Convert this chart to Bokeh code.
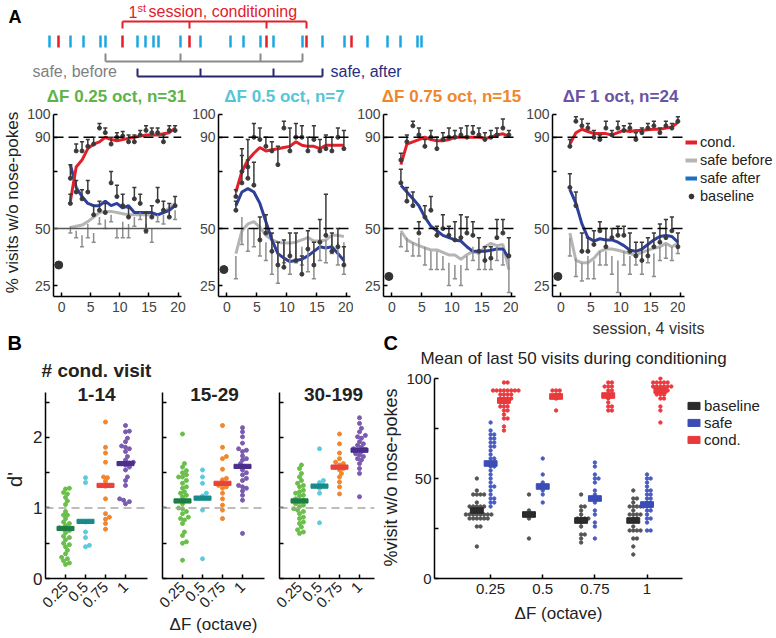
import numpy as np
from math import pi
from bokeh.plotting import figure
from bokeh.layouts import row, column
from bokeh.models import Range1d, Label, Span, Legend, LegendItem, FixedTicker, Spacer
from bokeh.embed import file_html
from bokeh.resources import INLINE

FONT = "Liberation Sans"

# ---------------- Panel A schematic data ----------------
visit_times = [49, 58, 70, 83, 100, 105, 122, 137, 145, 153, 158, 180, 189, 200, 230, 243,
               260, 266, 273, 302, 306, 322, 344, 351, 367, 387, 400, 417, 421]
visit_kind = ["s", "c", "s", "s", "s", "s", "c", "s", "s", "s", "s", "s", "c", "s", "s", "s",
              "s", "c", "s", "s", "c", "s", "s", "c", "s", "s", "s", "s", "s"]
cond_idx = [6, 12, 17, 20]
before_idx = [5, 11, 16, 19]
after_idx = [7, 13, 18, 21]

# ---------------- Panel A data ----------------
sessions = [1.5, 2.5, 3.5, 4.5, 5.5, 6.5, 7.5, 8.5, 9.5, 10.5, 11.5, 12.5, 13.5, 14.5,
            15.5, 16.5, 17.5, 18.5, 19.5]
df_labels = ["0.25", "0.5", "0.75", "1"]
n_mice = [31, 7, 15, 24]
baseline_A = [34, 32, 29, 29]

cond_line_a = [62, 77, 80, 85, 87, 88, 90, 89, 88.5, 89, 89.5, 90, 90.5, 91, 91, 91, 91.5, 92, 94]
before_line_a = [50.5, 51, 51.5, 53, 55, 57, 57.5, 57.5, 57, 56.5, 56, 56, 56, 56, 56, 56, 57, 59, 61]
after_line_a = [78, 68, 64, 61, 60, 60, 62, 60, 61, 59, 60, 57, 57, 57, 57, 56, 57, 58, 60]
cond_mean_a = [61, 84, 84, 86, 87, 94, 92, 87, 90, 90.5, 88, 88, 91, 93, 92, 92, 88, 93, 93]
cond_err_a = [4, 3, 4, 3, 3, 2, 2, 3, 2, 2, 3, 3, 2, 2, 2, 2, 3, 2, 2]
after_mean_a = [72, 66, 63, 66, 56, 58, 57, 70, 64, 60, 55, 63, 61, 49, 55, 62, 58, 55, 60]
after_err_a = [6, 5, 4, 5, 4, 4, 4, 5, 5, 5, 4, 5, 4, 8, 5, 6, 4, 6, 4]
before_mean_a = [51, 49, 47, 52, 48, 55, 54, 56, 50, 53, 52, 55, 57, 52, 50, 56, 56, 60, 58]
before_err_a = [3, 3, 5, 6, 4, 3, 4, 3, 4, 7, 6, 4, 3, 4, 6, 3, 4, 5, 4]

cond_line_b = [66, 75, 80, 83, 85.5, 84, 84.5, 85, 85.5, 86, 88, 86.5, 86, 86, 85, 86.5, 86.5, 86.5, 86.5]
before_line_b = [39, 49, 52, 53, 50.5, 47, 45, 44, 43.6, 43.6, 44, 45, 46, 44.5, 44.5, 45, 47, 47, 46.5]
after_line_b = [60, 66, 67.5, 66, 61, 53, 45, 39, 37, 35.5, 36, 36.5, 38, 40, 42, 41.5, 42, 39, 36]
cond_mean_b = [64, 75, 77, 90, 89, 86, 84, 78, 94, 84, 90, 90, 84, 89, 84, 85, 84, 90, 85]
cond_err_b = [3, 10, 12, 6, 5, 4, 4, 8, 3, 10, 6, 5, 6, 6, 5, 6, 6, 4, 8]
after_mean_b = [58, 70, 72, 69, 45, 48, 40, 34, 33, 38, 36, 30, 41, 34, 44, 47, 40, 42, 34]
after_err_b = [4, 12, 8, 10, 10, 8, 8, 10, 12, 10, 12, 8, 8, 10, 10, 18, 8, 8, 8]
before_mean_b = [38, 55, 50, 50, 48, 44, 42, 40, 43, 40, 47, 42, 45, 40, 44, 45, 47, 44, 44]
before_err_b = [10, 12, 10, 8, 10, 8, 12, 14, 8, 10, 12, 8, 14, 12, 8, 10, 8, 10, 14]

cond_line_c = [78, 87, 88, 89, 90, 89, 88.5, 88.5, 89, 90, 90, 90, 90, 90, 89.5, 90, 91, 91.5, 90.5]
before_line_c = [49, 45, 43.6, 42.5, 41.5, 40.6, 40.6, 39.5, 38.4, 38.4, 36.5, 38.5, 40, 39, 42, 43.5, 42.5, 43, 32]
after_line_c = [69, 66, 63, 60, 55, 51, 49, 47, 46, 45, 44.5, 42, 40, 40, 40, 40.5, 41, 41, 37]
cond_mean_c = [80, 88, 95, 91, 86, 90, 85, 89, 90, 90, 91, 90, 92, 91, 89, 90, 91, 94, 91]
cond_err_c = [3, 3, 2, 3, 3, 3, 5, 3, 4, 3, 3, 5, 3, 3, 3, 3, 3, 4, 2]
after_mean_c = [70, 62, 60, 48, 55, 58, 47, 50, 47, 45, 46, 48, 47, 40, 36, 37, 46, 48, 38]
after_err_c = [6, 6, 6, 5, 5, 6, 4, 6, 4, 8, 10, 7, 6, 6, 6, 5, 8, 6, 8]
before_mean_c = [48, 46, 44, 46, 42, 40, 40, 38, 35, 34, 34, 38, 42, 40, 38, 40, 42, 40, 40]
before_err_c = [6, 6, 6, 8, 8, 8, 8, 6, 10, 6, 9, 6, 6, 8, 6, 8, 6, 6, 18]

cond_line_d = [87, 92, 93.5, 92.5, 91.6, 91.6, 91.6, 91, 92, 93, 92.5, 93, 93, 93.3, 93.5, 93.5, 94, 94.5, 96.5]
before_line_d = [48, 36, 35, 35, 37, 40, 41, 41, 40.5, 39.8, 39, 38.4, 39.5, 40.5, 41.3, 42, 43.5, 42, 43.5]
after_line_d = [67, 61, 52, 46, 44.5, 45.5, 45, 45, 44, 42.5, 40.5, 40, 41, 43, 45, 46.5, 47, 46.5, 44]
cond_mean_d = [86, 97, 95, 94, 90, 89, 94, 91, 94, 93, 94, 89, 92, 94, 95, 92, 95, 94, 97]
cond_err_d = [3, 2, 3, 2, 3, 2, 3, 2, 3, 2, 2, 3, 2, 2, 2, 2, 2, 2, 2]
after_mean_d = [68, 60, 40, 40, 43, 49, 42, 46, 47, 47, 40, 38, 36, 38, 42, 44, 46, 49, 42]
after_err_d = [6, 6, 8, 6, 6, 4, 8, 4, 4, 4, 8, 6, 8, 8, 6, 8, 8, 6, 6]
before_mean_d = [46, 37, 35, 38, 36, 40, 40, 38, 36, 40, 38, 40, 36, 41, 39, 42, 43, 42, 44]
before_err_d = [8, 8, 8, 10, 8, 6, 6, 8, 14, 6, 8, 6, 6, 6, 10, 6, 6, 6, 5]

# ---------------- Panel B data (d') ----------------
b_windows = ["1-14", "15-29", "30-199"]
dp_1_14 = [
    [1.28, 1.27, 1.22, 1.2, 1.15, 1.1, 1.05, 0.95, 0.9, 0.9, 0.85, 0.8, 0.78, 0.75, 0.72, 0.7,
     0.68, 0.65, 0.6, 0.58, 0.55, 0.5, 0.48, 0.45, 0.4, 0.35, 0.3, 0.28, 0.25, 0.22, 0.2],
    [1.43, 1.36, 0.8, 0.66, 0.58, 0.47, 0.45],
    [2.22, 1.86, 1.78, 1.65, 1.44, 1.43, 1.38, 1.32, 1.31, 1.13, 0.92, 0.87, 0.84, 0.78, 0.7],
    [2.17, 2.09, 2.08, 1.99, 1.94, 1.88, 1.86, 1.84, 1.8, 1.73, 1.68, 1.65, 1.64, 1.63, 1.61,
     1.58, 1.54, 1.44, 1.39, 1.32, 1.13, 1.11, 1.09, 1.06],
]
dp_15_29 = [
    [2.05, 1.63, 1.58, 1.53, 1.5, 1.47, 1.44, 1.44, 1.39, 1.35, 1.3, 1.28, 1.23, 1.21, 1.18,
     1.16, 1.11, 1.06, 1.0, 0.99, 0.95, 0.92, 0.87, 0.85, 0.83, 0.78, 0.66, 0.61, 0.52, 0.5, 0.26],
    [1.54, 1.44, 1.35, 1.21, 1.17, 0.97, 0.28],
    [2.17, 1.86, 1.73, 1.7, 1.55, 1.42, 1.4, 1.32, 1.3, 1.28, 1.21, 1.13, 1.04, 0.97, 0.85],
    [2.14, 2.08, 2.01, 1.92, 1.84, 1.82, 1.8, 1.74, 1.7, 1.68, 1.63, 1.59, 1.54, 1.5, 1.47,
     1.42, 1.39, 1.32, 1.3, 1.28, 1.24, 1.18, 1.11, 0.64],
]
dp_30_199 = [
    [1.61, 1.56, 1.49, 1.44, 1.39, 1.35, 1.32, 1.3, 1.25, 1.23, 1.21, 1.18, 1.17, 1.13, 1.11,
     1.09, 1.06, 1.04, 1.02, 0.99, 0.97, 0.95, 0.92, 0.87, 0.85, 0.8, 0.78, 0.73, 0.69, 0.66, 0.64],
    [1.84, 1.39, 1.36, 1.32, 1.28, 1.21, 0.79],
    [2.05, 1.91, 1.78, 1.7, 1.65, 1.63, 1.61, 1.58, 1.56, 1.54, 1.49, 1.44, 1.37, 1.3, 1.2],
    [2.28, 2.2, 2.13, 2.08, 2.03, 2.01, 1.99, 1.94, 1.91, 1.89, 1.86, 1.84, 1.83, 1.82, 1.8,
     1.77, 1.75, 1.73, 1.7, 1.68, 1.63, 1.56, 1.49, 1.16],
]
dp_mean_1_14 = [0.71, 0.81, 1.32, 1.63]
dp_mean_15_29 = [1.1, 1.14, 1.35, 1.59]
dp_mean_30_199 = [1.1, 1.31, 1.58, 1.82]

# ---------------- Panel C data (% visits w/o nose-pokes, last 50 visits) ----------------
c_baseline = [
    [50, 44, 42, 42, 42, 42, 38, 36, 36, 36, 36, 36, 34, 34, 32, 32, 32, 32, 32, 32, 32, 32,
     30, 30, 30, 30, 30, 30, 26, 26, 16],
    [42, 34, 32, 32, 32, 30, 20],
    [42, 36, 36, 34, 32, 30, 30, 30, 30, 28, 26, 22, 22, 20, 18],
    [44, 40, 40, 38, 36, 36, 36, 36, 34, 32, 32, 32, 32, 30, 30, 26, 24, 24, 24, 24, 20, 20, 16, 12],
]
c_safe = [
    [78, 74, 72, 72, 70, 70, 68, 68, 66, 66, 64, 62, 60, 60, 58, 58, 56, 56, 54, 52, 50, 48,
     46, 46, 44, 42, 40, 40, 38, 38, 36],
    [60, 52, 48, 46, 44, 42, 38],
    [58, 56, 52, 50, 50, 48, 44, 42, 40, 38, 34, 32, 28, 26, 20],
    [52, 50, 50, 48, 46, 44, 44, 42, 42, 40, 40, 38, 38, 36, 36, 36, 34, 34, 32, 30, 30, 28, 24, 24],
]
c_cond = [
    [98, 98, 94, 94, 94, 94, 94, 94, 94, 94, 92, 92, 92, 92, 90, 90, 90, 90, 88, 88, 88, 86,
     86, 86, 84, 84, 82, 80, 80, 76, 74],
    [94, 94, 94, 92, 92, 90, 84],
    [98, 98, 96, 96, 96, 94, 94, 92, 92, 90, 88, 86, 86, 84, 84],
    [100, 98, 98, 98, 98, 98, 96, 96, 96, 96, 96, 96, 94, 94, 94, 94, 92, 92, 92, 90, 90, 86, 84, 78],
]
c_baseline_mean = [34, 32, 29, 29]
c_safe_mean = [57.5, 46, 40, 37]
c_cond_mean = [89, 91, 91.5, 94]
c_xvals = [0.25, 0.5, 0.75, 1.0]

# ---------------- colours ----------------
RED = "#e3202a"
BLUE = "#2f3f9c"
LGRAY = "#b5b5b5"
DARK = "#3a3a3a"
BARLIGHT = "#8e8e8e"
TITLE_COLORS = ["#5db347", "#55c5d6", "#f0862a", "#6b52a3"]
DOT_COLORS = ["#6abf4b", "#5ccbdb", "#f3862b", "#7a5bb0"]
BAR_COLORS = ["#1d7d45", "#178a8c", "#e8423a", "#4b2d8c"]


def add_label(p, x, y, text, size, color="black", bold=False, align="center",
              baseline="middle", angle=0.0):
    p.add_layout(Label(x=x, y=y, text=text,
                       text_font=FONT, text_font_size=f"{size}px", text_color=color,
                       text_font_style="bold" if bold else "normal",
                       text_align=align, text_baseline=baseline, angle=angle))


def bare_fig(w, h, xr, yr):
    p = figure(width=w, height=h, x_range=Range1d(*xr), y_range=Range1d(*yr), min_border=0,
               x_axis_location=None, y_axis_location=None,
               output_backend="svg", toolbar_location=None)
    p.grid.visible = False
    p.outline_line_color = None
    return p


def style_axes(p, tick_size, label_color="#333333"):
    for ax in p.axis:
        ax.axis_line_color = "black"
        ax.axis_line_width = 1.5
        ax.major_tick_line_color = "black"
        ax.major_tick_line_width = 1.5
        ax.major_tick_in = 4
        ax.major_tick_out = 0
        ax.minor_tick_line_color = None
        ax.major_label_text_font = FONT
        ax.major_label_text_font_size = f"{tick_size}px"
        ax.major_label_text_color = label_color
        ax.major_label_standoff = 3
        ax.axis_label_text_font = FONT
        ax.axis_label_text_font_style = "normal"
        ax.axis_label_text_color = "#222222"
    p.grid.visible = False
    p.outline_line_color = None


def swarm(vals, py_per_unit, diam):
    ys = np.asarray(vals, float) * py_per_unit
    order = np.argsort(ys)
    steps = [0.0]
    for k in range(1, 60):
        steps += [k * diam * 0.5, -k * diam * 0.5]
    placed = []
    out = np.zeros(len(ys))
    for i in order:
        for s in steps:
            if all((s - px) ** 2 + (ys[i] - py) ** 2 >= 0.9 * diam * diam for px, py in placed):
                out[i] = s
                placed.append((s, ys[i]))
                break
    return out


# ================= Row 1: schematic + panel-A titles (page-pixel data space) =================
sch = bare_fig(776, 106, (0, 776), (106, 0))
kind_color = {"s": "#1aa7df", "c": RED}
sch.segment(x0=visit_times, y0=[35] * len(visit_times), x1=visit_times, y1=[47] * len(visit_times),
            line_color=[kind_color[k] for k in visit_kind], line_width=2.5)


def bracket(idx, y, leg, color):
    xs = [visit_times[i] for i in idx]
    sch.segment(x0=[xs[0]], y0=[y], x1=[xs[-1]], y1=[y], line_color=color, line_width=2)
    sch.segment(x0=xs, y0=[y] * len(xs), x1=xs, y1=[y + leg] * len(xs), line_color=color, line_width=2)


bracket(cond_idx, 21, 7, RED)
bracket(before_idx, 61, -8, "#8a8a8a")
bracket(after_idx, 76, -8, "#26276e")
add_label(sch, 8, 16, "A", 18, bold=True, align="left")
add_label(sch, 128, 11, "1", 16, color=RED, align="left")
add_label(sch, 137, 7, "st", 11, color=RED, align="left")
add_label(sch, 148, 11, "session, conditioning", 16, color=RED, align="left")
add_label(sch, 32, 71, "safe, before", 16, color="#7f7f7f", align="left")
add_label(sch, 330, 71, "safe, after", 16, color="#2b2d7c", align="left")
title_x = [116, 284, 451, 620]
for k in range(4):
    add_label(sch, title_x[k], 96, f"\u0394F {df_labels[k]} oct, n={n_mice[k]}", 17,
              color=TITLE_COLORS[k], bold=True)

# ================= Row 2: panel A curves =================
A_sets = [
    (cond_line_a, before_line_a, after_line_a, cond_mean_a, cond_err_a, after_mean_a, after_err_a, before_mean_a, before_err_a),
    (cond_line_b, before_line_b, after_line_b, cond_mean_b, cond_err_b, after_mean_b, after_err_b, before_mean_b, before_err_b),
    (cond_line_c, before_line_c, after_line_c, cond_mean_c, cond_err_c, after_mean_c, after_err_c, before_mean_c, before_err_c),
    (cond_line_d, before_line_d, after_line_d, cond_mean_d, cond_err_d, after_mean_d, after_err_d, before_mean_d, before_err_d),
]
A_geom = [(187, 49, 6), (166, 31, 3), (165, 30, 3), (167, 34, 1)]
A_figs = []
cap = 0.35
for k in range(4):
    w, lb, rb = A_geom[k]
    p = figure(width=w, height=212, x_range=Range1d(-1.4, 20.6), y_range=Range1d(20.2, 102.6),
               min_border_left=lb, min_border_right=rb, min_border_top=2, min_border_bottom=22,
               output_backend="svg", toolbar_location=None)
    style_axes(p, 14, "#444444")
    p.xaxis.major_label_standoff = 5
    p.xaxis.ticker = FixedTicker(ticks=[0, 5, 10, 15, 20])
    p.yaxis.ticker = FixedTicker(ticks=[25, 50, 75, 90, 100])
    p.yaxis.major_label_overrides = {75: ""}
    p.yaxis.bounds = (20.2, 100)
    cl, bl, al, cm, ce, am, ae, bm, be = A_sets[k]
    p.add_layout(Span(location=90, dimension="width", line_color="black", line_width=1.5, line_dash="10 5"))
    if k == 0:
        p.add_layout(Span(location=50, dimension="width", line_color="#555555", line_width=1.5))
    else:
        p.add_layout(Span(location=50, dimension="width", line_color="black", line_width=1.5, line_dash="10 5"))
    p.line(sessions, bl, line_color=LGRAY, line_width=3)
    p.line(sessions, al, line_color=BLUE, line_width=3)
    p.line(sessions, cl, line_color=RED, line_width=3)
    xs = np.array(sessions)
    bm_a, be_a = np.array(bm, float), np.array(be, float)
    p.segment(xs, bm_a, xs, bm_a - be_a, line_color=BARLIGHT, line_width=1.5)
    p.segment(xs - cap, bm_a - be_a, xs + cap, bm_a - be_a, line_color=BARLIGHT, line_width=1.5)
    for m, e in ((cm, ce), (am, ae)):
        m_a, e_a = np.array(m, float), np.array(e, float)
        p.segment(xs, m_a, xs, m_a + e_a, line_color=DARK, line_width=1.5)
        p.segment(xs - cap, m_a + e_a, xs + cap, m_a + e_a, line_color=DARK, line_width=1.5)
        p.scatter(xs, m_a, size=4, color=DARK)
    p.scatter([-0.5], [baseline_A[k]], size=8, color="#333333")
    A_figs.append(p)

A_figs[0].yaxis.axis_label = "% visits w/o nose-pokes"
A_figs[0].yaxis.axis_label_text_font_size = "17px"
A_figs[0].yaxis.axis_label_standoff = 2

# legend for A
legA = bare_fig(91, 185, (0, 1), (0, 1))
r_c = legA.line(x=[5, 6], y=[5, 6], line_color=RED, line_width=4)
r_b = legA.line(x=[5, 6], y=[5, 6], line_color=LGRAY, line_width=4)
r_a = legA.line(x=[5, 6], y=[5, 6], line_color="#1f6fc0", line_width=4)
r_0 = legA.scatter(x=[5], y=[5], size=8, color="#333333")
lgA = Legend(items=[LegendItem(label="cond.", renderers=[r_c]),
                    LegendItem(label="safe before", renderers=[r_b]),
                    LegendItem(label="safe after", renderers=[r_a]),
                    LegendItem(label="baseline", renderers=[r_0])],
             location="top_left", margin=0, padding=0, spacing=0, label_height=18, glyph_height=18,
             glyph_width=12, label_standoff=3, border_line_color=None, background_fill_alpha=0,
             label_text_font=FONT, label_text_font_size="14.5px", label_text_color="#222222")
legA.add_layout(lgA)
legA_col = column(Spacer(width=91, height=27), legA)

# ================= Row 3 strips =================
stripB = bare_fig(378, 62, (0, 378), (380, 318))
add_label(stripB, 7, 342, "B", 20, bold=True, align="left")
add_label(stripB, 96, 370, "# cond. visit", 19, color="#222222", bold=True)

stripC = bare_fig(398, 52, (378, 776), (370, 318))
add_label(stripC, 383, 342, "C", 20, bold=True, align="left")
add_label(stripC, 648, 328, "session, 4 visits", 16, color="#333333")
add_label(stripC, 573, 358, "Mean of last 50 visits during conditioning", 17, color="#222222")

# ================= panel B =================
B_sets = [(dp_1_14, dp_mean_1_14), (dp_15_29, dp_mean_15_29), (dp_30_199, dp_mean_30_199)]
B_geom = [(155, 45, 8, 5.1), (117, 7, 8, 5.1), (106, 7, 4, 4.75)]
B_title_x = [2.55, 2.6, 2.7]
B_figs = []
for j in range(3):
    w, lb, rb, xmax = B_geom[j]
    p = figure(width=w, height=258, x_range=Range1d(0, xmax), y_range=Range1d(0, 2.8085),
               min_border_left=lb, min_border_right=rb, min_border_top=0, min_border_bottom=60,
               output_backend="svg", toolbar_location=None)
    style_axes(p, 15, "#222222")
    p.yaxis.ticker = FixedTicker(ticks=[0, 0.5, 1, 1.5, 2, 2.5])
    p.yaxis.bounds = (0, 2.64)
    if j == 0:
        p.yaxis.major_label_overrides = {0: "0", 0.5: "", 1: "1", 1.5: "", 2: "2", 2.5: ""}
        p.yaxis.major_label_text_font_size = "17px"
        p.yaxis.axis_label = "d'"
        p.yaxis.axis_label_text_font_size = "20px"
        p.yaxis.axis_label_standoff = 4
    else:
        p.yaxis.major_label_overrides = {0: "", 0.5: "", 1: "", 1.5: "", 2: "", 2.5: ""}
        p.yaxis.major_label_standoff = 0
    p.xaxis.ticker = FixedTicker(ticks=[1, 2, 3, 4])
    p.xaxis.major_label_overrides = {1: df_labels[0], 2: df_labels[1], 3: df_labels[2], 4: df_labels[3]}
    p.xaxis.major_label_orientation = pi / 4
    p.xaxis.major_label_standoff = 6
    p.add_layout(Span(location=1, dimension="width", line_color="#a8a8a8", line_width=1.5, line_dash="8 5"))
    vals_list, means = B_sets[j]
    for g in range(4):
        offs = swarm(vals_list[g], 70.5, 3.9) / 20.0
        p.scatter(np.full(len(vals_list[g]), g + 1.0) + offs, vals_list[g], size=4, color=DOT_COLORS[g])
    p.rect(x=[1, 2, 3, 4], y=means, width=0.85, height=0.06, color=BAR_COLORS)
    add_label(p, B_title_x[j], 2.61, b_windows[j], 19, color="#222222", bold=True)
    B_figs.append(p)

B_figs[1].xaxis.axis_label = "\u0394F (octave)"
B_figs[1].xaxis.axis_label_text_font_size = "17px"
B_figs[1].xaxis.axis_label_standoff = 0

# ================= panel C =================
pc = figure(width=308, height=268, x_range=Range1d(-0.019, 1.17), y_range=Range1d(0, 101),
            min_border_left=52, min_border_right=4, min_border_top=6, min_border_bottom=60,
            output_backend="svg", toolbar_location=None)
style_axes(pc, 15, "#222222")
pc.yaxis.ticker = FixedTicker(ticks=[0, 25, 50, 75, 100])
pc.yaxis.major_label_overrides = {25: "", 75: ""}
pc.yaxis.bounds = (0, 100)
pc.xaxis.ticker = FixedTicker(ticks=c_xvals)
pc.xaxis.major_label_overrides = {0.25: "0.25", 0.5: "0.5", 0.75: "0.75", 1: "1"}
pc.xaxis.major_label_standoff = 5
pc.yaxis.axis_label = "%visit w/o nose-pokes"
pc.yaxis.axis_label_text_font_size = "18px"
pc.yaxis.axis_label_standoff = 2
pc.xaxis.axis_label = "\u0394F (octave)"
pc.xaxis.axis_label_text_font_size = "17px"
pc.xaxis.axis_label_standoff = 7
C_groups = [(c_baseline, c_baseline_mean, -0.066, "#555555", "#2b2b2b"),
            (c_safe, c_safe_mean, 0.0, "#4a5cc0", "#3b4db5"),
            (c_cond, c_cond_mean, 0.064, "#ee3a3f", "#e8393b")]
for vals_list, means, shift, dcol, bcol in C_groups:
    for g in range(4):
        offs = swarm(vals_list[g], 2.0, 3.7) / 212.0
        pc.scatter(np.full(len(vals_list[g]), c_xvals[g] + shift) + offs, vals_list[g], size=3.4, color=dcol)
    pc.rect(x=[v + shift for v in c_xvals], y=means, width=0.062, height=2.8, color=bcol)

legC = bare_fig(90, 241, (0, 1), (0, 1))
lc_rs = [legC.rect(x=[5], y=[5], width=1, height=1, color=col) for col in ("#2b2b2b", "#3b4db5", "#e8393b")]
lgC = Legend(items=[LegendItem(label=t, renderers=[r]) for t, r in zip(["baseline", "safe", "cond."], lc_rs)],
             location="top_left", margin=0, padding=0, spacing=-3, label_height=14, glyph_height=9,
             glyph_width=15, label_standoff=3, border_line_color=None, background_fill_alpha=0,
             label_text_font=FONT, label_text_font_size="15px", label_text_color="#222222")
legC.add_layout(lgC)
legC_col = column(Spacer(width=90, height=27), legC)

layout = column(
    sch,
    row(*A_figs, legA_col),
    row(column(stripB, row(*B_figs)),
        column(stripC, row(pc, legC_col))),
)

open("out.html", "w").write(file_html(layout, INLINE))
